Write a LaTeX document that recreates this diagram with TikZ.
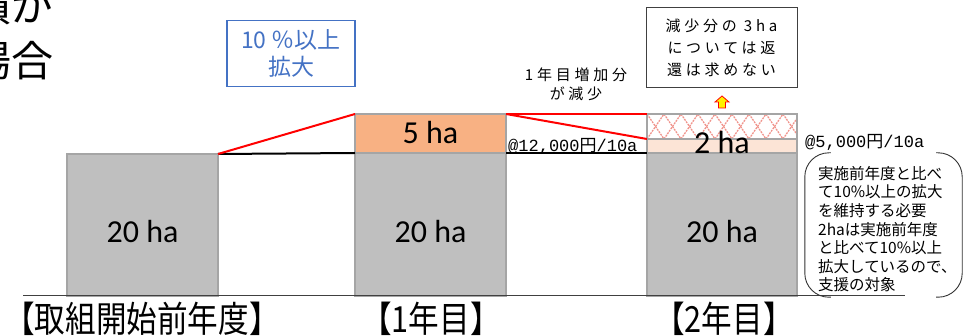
\documentclass[tikz,border=0pt]{standalone}
\usepackage{fontspec}
\newfontfamily\jp{Noto Sans CJK JP}
\newfontfamily\jpsp[LetterSpace=25]{Noto Sans CJK JP}
\newfontfamily\calfont{Carlito}
\newfontfamily\monofnt{Liberation Mono}
\definecolor{barg}{HTML}{BFBFBF}
\definecolor{bargd}{HTML}{A5A5A5}
\definecolor{orng}{HTML}{F8B183}
\definecolor{lorng}{HTML}{FCE4D6}
\definecolor{hatchc}{HTML}{F0948C}
\definecolor{blu}{HTML}{4472C4}
\definecolor{basec}{HTML}{404040}
\tikzset{
  bar/.style={draw=bargd, line width=1.5pt, inner sep=0pt, outer sep=0pt, anchor=north west},
  hatxt/.style={font=\calfont\fontsize{32}{36}\selectfont, inner sep=0pt},
  redl/.style={draw=red, line width=2pt},
  blkl/.style={draw=black, line width=2pt},
  hatchl/.style={draw=hatchc, line width=1.3pt, dash pattern=on 2pt off 1pt},
  brk/.style={draw=black!80, line width=0.9pt, rounded corners=24pt},
  yr/.style={font=\jp\fontsize{36}{40}\selectfont, inner sep=0pt, anchor=base},
  bigjp/.style={font=\jp\fontsize{42}{46}\selectfont, inner sep=0pt, anchor=base west},
  price/.style={font=\fontsize{17}{20}\selectfont, inner sep=0pt, anchor=west},
}
\begin{document}
\begin{tikzpicture}[x=1pt,y=-1pt]
\useasboundingbox (0,0) rectangle (964,336);
% top-left partial text
\node[bigjp] (tl1) at (-31,22) {積が};
\node[bigjp] (tl2) at (-31,77) {場合};
% bar 1
\node[bar, fill=barg, minimum width=151pt, minimum height=142pt] (b1) at (67,154) {};
% bar 2
\node[bar, fill=orng, minimum width=151pt, minimum height=39pt] (b2o) at (355,114) {};
\node[bar, fill=barg, minimum width=151pt, minimum height=143pt] (b2g) at (355,153) {};
% bar 3
\begin{scope}
  \clip (647,114) rectangle (797,139);
  \foreach \i in {-2,...,10} {
    \draw[hatchl] (647+17*\i,139) -- ++(17,-25);
    \draw[hatchl] (647+17*\i,114) -- ++(17,25);
  }
\end{scope}
\node[bar, minimum width=150pt, minimum height=25pt] (b3h) at (647,114) {};
\node[bar, fill=lorng, minimum width=150pt, minimum height=14pt] (b3o) at (647,139) {};
\node[bar, fill=barg, minimum width=150pt, minimum height=143pt] (b3g) at (647,153) {};
% baseline
\coordinate (bl) at (23,296);
\coordinate (br) at (905,296);
\draw[draw=basec, line width=1pt] (bl) -- (br);
% connectors
\draw[blkl] (b1.north east) -- (b2g.north west);
\draw[blkl] (b2g.north east) -- (b3g.north west);
\draw[redl] (b1.north east) -- (b2o.north west);
\draw[redl] (b2o.north east) -- (b3h.north west);
\draw[redl] (b2o.north east) -- (b3h.south west);
% bar texts
\node[hatxt] (t1) at (142.5,232) {20 ha};
\node[hatxt] (t2) at (430.5,232) {20 ha};
\node[hatxt] (t3) at (722,232) {20 ha};
\node[hatxt] (t4) at (430.5,133) {5 ha};
\node[hatxt] (t5) at (722,143) {2 ha};
% blue box
\node[draw=blu, line width=1.8pt, minimum width=128pt, minimum height=66pt, inner sep=0pt,
      text=blu, align=center, font=\jp\fontsize{23}{27}\selectfont] (bx) at (291,53.5) {10 ％以上\\拡大};
% increase text
\node[align=center, font=\jpsp\fontsize{15}{19}\selectfont, inner sep=0pt] (inc) at (576,84) {1年目増加分\\が減少};
% top-right box
\node[draw=black!75, line width=1pt, minimum width=151pt, minimum height=80pt, inner sep=0pt,
      align=center, font=\jpsp\fontsize{15}{22}\selectfont] (rb) at (721.5,48) {減少分の 3ha\\については返\\還は求めない};
% yellow arrow
\draw[draw=red, fill=yellow, line width=0.8pt] (722,96) -- (729,102) -- (725.5,102) -- (725.5,108)
  -- (718.5,108) -- (718.5,102) -- (715,102) -- cycle;
% prices
\node[price] (p1) at (508,146) {{\monofnt @12,000}{\jp 円}{\monofnt /10a}};
\node[price] (p2) at (805,142) {{\monofnt @5,000}{\jp 円}{\monofnt /10a}};
% callout
\node[minimum width=157pt, minimum height=144pt, inner sep=0pt] (cb) at (883.5,225) {};
\draw[brk] ([xshift=26pt]cb.north west) -- (cb.north west) -- (cb.south west) -- ([xshift=26pt]cb.south west);
\draw[brk] ([xshift=-26pt]cb.north east) -- (cb.north east) -- (cb.south east) -- ([xshift=-26pt]cb.south east);
\node[anchor=north west, align=left, inner sep=0pt, font=\jp\fontsize{15.5}{18.6}\selectfont] (ct) at (818,166)
 {実施前年度と比べ\\て10\%以上の拡大\\を維持する必要\\2haは実施前年度\\と比べて10\%以上\\拡大しているので、\\支援の対象};
% year labels
\node[yr] (y1) at (142,333) {\scalebox{0.85}[1]{【取組開始前年度】}};
\node[yr] (y2) at (431,333) {\scalebox{0.85}[1]{【1年目】}};
\node[yr] (y3) at (724,333) {\scalebox{0.85}[1]{【2年目】}};
\end{tikzpicture}
\end{document}
